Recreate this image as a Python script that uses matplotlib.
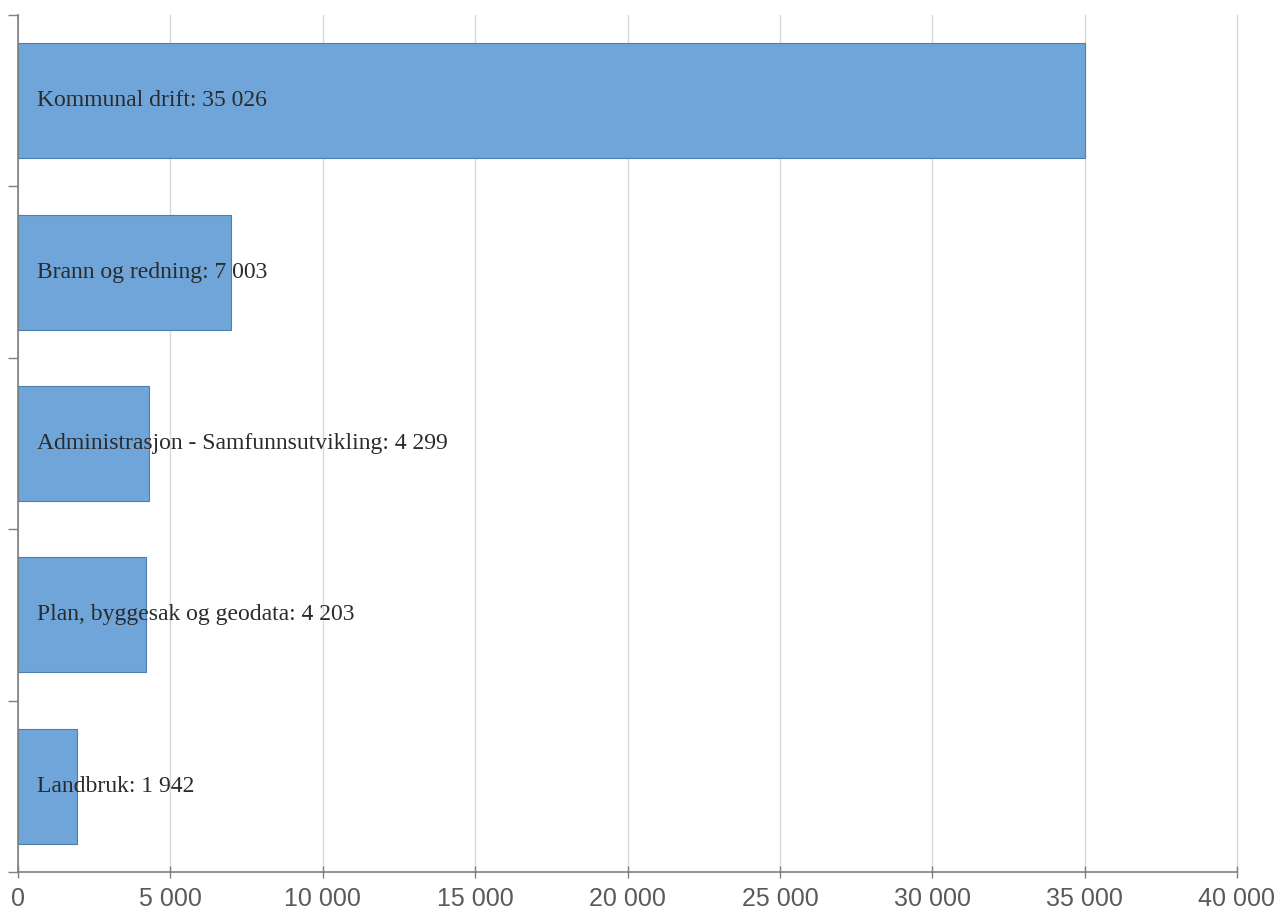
import matplotlib.pyplot as plt
from matplotlib.ticker import FuncFormatter

# Kategorier og verdier (ovenfra og ned)
categories = ["Kommunal drift", "Brann og redning",
              "Administrasjon - Samfunnsutvikling",
              "Plan, byggesak og geodata", "Landbruk"]
values = [35026, 7003, 4299, 4203, 1942]
xticks = [0, 5000, 10000, 15000, 20000, 25000, 30000, 35000, 40000]


def fmt(v):
    return "{:,}".format(int(v)).replace(",", " ")


fig = plt.figure(figsize=(12.79, 9.16), dpi=100)
ax = fig.add_axes([18 / 1279, 1 - 872 / 916, (1237 - 18) / 1279, (872 - 15) / 916])

ypos = list(range(len(categories)))[::-1]
ax.barh(ypos, values, height=0.67, color="#6fa5d8", edgecolor="#4f7fae", linewidth=0.8, zorder=2)

for y, name, v in zip(ypos, categories, values):
    ax.annotate("%s: %s" % (name, fmt(v)), xy=(0, y), xytext=(19, 0),
                textcoords="offset pixels", va="center", ha="left",
                fontsize=17, family="Liberation Serif", color="#2b2b2b", zorder=3)

ax.set_xlim(0, 40000)
ax.set_ylim(-0.5, len(categories) - 0.5)
ax.set_xticks(xticks)
ax.xaxis.set_major_formatter(FuncFormatter(lambda v, p: fmt(v)))
ax.set_yticks([i - 0.5 for i in range(len(categories) + 1)])
ax.set_yticklabels([])
ax.grid(axis="x", color="#d9d9d9", linewidth=1, zorder=0, clip_on=False)
ax.set_axisbelow(True)

for s in ["top", "right"]:
    ax.spines[s].set_visible(False)
for s in ["left", "bottom"]:
    ax.spines[s].set_color("#808080")
    ax.spines[s].set_linewidth(1.2)

ax.tick_params(axis="x", direction="inout", length=8, color="#808080", width=1,
               labelsize=18, labelcolor="#5a5a5a", pad=7)
ax.tick_params(axis="y", direction="out", length=7, color="#808080", width=1)
for lab in ax.get_xticklabels():
    lab.set_family("Liberation Sans")

fig.savefig("out.png", dpi=100)
